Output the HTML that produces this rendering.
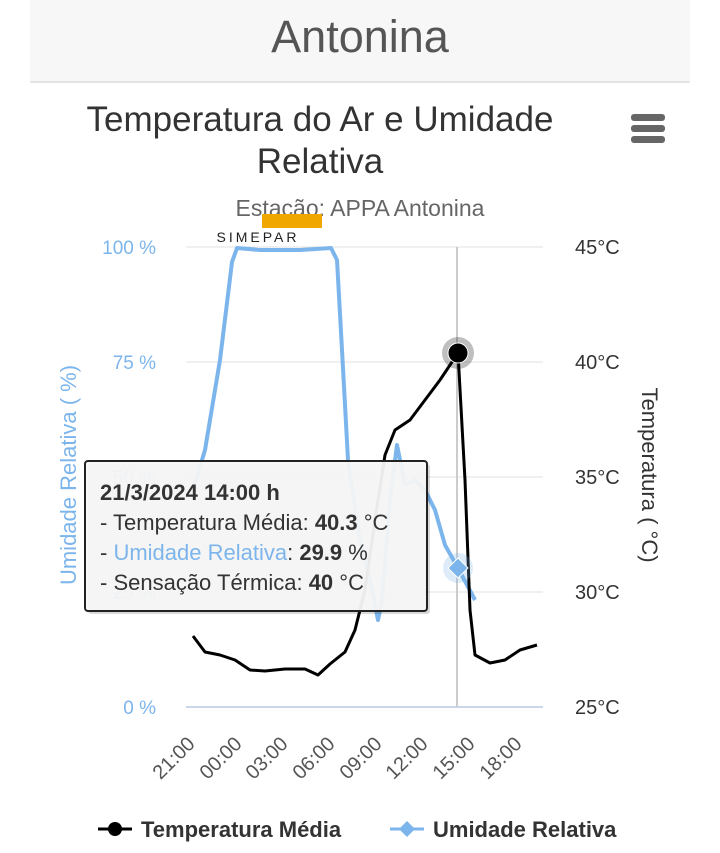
<!DOCTYPE html>
<html><head><meta charset="utf-8"><style>
body{margin:0;width:720px;height:848px;background:#fff;font-family:"Liberation Sans",sans-serif;overflow:hidden}
</style></head><body>
<svg width="720" height="848" xmlns="http://www.w3.org/2000/svg" font-family="Liberation Sans, sans-serif">
<rect x="30" y="0" width="660" height="82" fill="#f7f7f7"/>
<line x1="30" y1="82" x2="690" y2="82" stroke="#e4e4e4" stroke-width="2"/>
<text x="360" y="52" font-size="45" fill="#555" text-anchor="middle">Antonina</text>
<text x="320" y="131" font-size="35" fill="#333" text-anchor="middle">Temperatura do Ar e Umidade</text>
<text x="320" y="173" font-size="35" fill="#333" text-anchor="middle">Relativa</text>
<rect x="631" y="114" width="34" height="7" rx="3" fill="#666"/>
<rect x="631" y="125" width="34" height="7" rx="3" fill="#666"/>
<rect x="631" y="136" width="34" height="7" rx="3" fill="#666"/>
<text x="360" y="216" font-size="23" fill="#666" text-anchor="middle">Estação: APPA Antonina</text>
<rect x="262" y="214" width="60" height="14" fill="#f0a800"/>
<text x="258" y="242" font-size="14" fill="#222" text-anchor="middle" letter-spacing="3">SIMEPAR</text>
<g stroke="#e0e0e0" stroke-width="1">
<line x1="186" y1="247" x2="543" y2="247"/><line x1="186" y1="362" x2="543" y2="362"/>
<line x1="186" y1="477" x2="543" y2="477"/><line x1="186" y1="592" x2="543" y2="592"/>
</g>
<line x1="186" y1="707" x2="543" y2="707" stroke="#ccd6eb" stroke-width="2"/>
<line x1="457" y1="247" x2="457" y2="707" stroke="#ccc" stroke-width="2"/>
<g font-size="19" fill="#7cb5ec" text-anchor="end">
<text x="156" y="254">100 %</text><text x="156" y="369">75 %</text><text x="156" y="484">50 %</text><text x="156" y="599">25 %</text><text x="156" y="714">0 %</text></g>
<g font-size="20" fill="#333"><text x="575" y="254">45°C</text><text x="575" y="369">40°C</text><text x="575" y="484">35°C</text><text x="575" y="599">30°C</text><text x="575" y="714">25°C</text></g>
<text transform="translate(76,475) rotate(-90)" font-size="22" fill="#7cb5ec" text-anchor="middle">Umidade Relativa ( %)</text>
<text transform="translate(642,475) rotate(90)" font-size="22" fill="#333" text-anchor="middle">Temperatura ( °C)</text>
<g font-size="20" fill="#555" text-anchor="end">
<text transform="translate(196,745) rotate(-45)">21:00</text>
<text transform="translate(243,745) rotate(-45)">00:00</text>
<text transform="translate(289,745) rotate(-45)">03:00</text>
<text transform="translate(336,745) rotate(-45)">06:00</text>
<text transform="translate(383,745) rotate(-45)">09:00</text>
<text transform="translate(429,745) rotate(-45)">12:00</text>
<text transform="translate(476,745) rotate(-45)">15:00</text>
<text transform="translate(523,745) rotate(-45)">18:00</text>
</g>
<polyline fill="none" stroke="#7cb5ec" stroke-width="4" stroke-linejoin="round" points="193,490 205,450 220,360 232,262 237,248 260,250 300,250 331,248 337,260 342,350 348,460 360,540 370,580 378,620 382,600 390,500 397,445 405,485 415,480 425,490 435,510 445,545 458,568 475,600"/>
<polyline fill="none" stroke="#000" stroke-width="3" stroke-linejoin="round" points="193,636 205,652 220,655 235,660 250,670 265,671 285,669 305,669 318,675 330,664 345,652 355,630 365,590 375,520 385,455 395,430 410,420 425,400 440,380 458,353 465,480 470,610 475,655 490,663 505,660 520,650 537,645"/>
<circle cx="458" cy="353" r="16" fill="#000" opacity="0.25"/>
<circle cx="458" cy="353" r="10" fill="#000" stroke="#fff" stroke-width="1"/>
<circle cx="458" cy="568" r="15" fill="#7cb5ec" opacity="0.25"/>
<polygon points="458,558 468,568 458,578 448,568" fill="#7cb5ec" stroke="#fff" stroke-width="1"/>
<rect x="88" y="464" width="342" height="150" fill="#000" opacity="0.15" rx="3"/>
<rect x="85" y="461" width="342" height="150" fill="#f7f7f7" fill-opacity="0.95" stroke="#222" stroke-width="2" rx="3"/>
<g font-size="22" fill="#333">
<text x="100" y="500" font-weight="bold">21/3/2024 14:00 h</text>
<text x="100" y="530">- Temperatura Média: <tspan font-weight="bold">40.3</tspan> °C</text>
<text x="100" y="560">- <tspan fill="#7cb5ec">Umidade Relativa</tspan>: <tspan font-weight="bold">29.9</tspan> %</text>
<text x="100" y="590">- Sensação Térmica: <tspan font-weight="bold">40</tspan> °C</text>
</g>
<line x1="98" y1="829" x2="132" y2="829" stroke="#000" stroke-width="3"/>
<circle cx="115" cy="829" r="7" fill="#000"/>
<text x="141" y="837" font-size="22" font-weight="bold" fill="#333">Temperatura Média</text>
<line x1="390" y1="829" x2="424" y2="829" stroke="#7cb5ec" stroke-width="3"/>
<polygon points="407,821 415,829 407,837 399,829" fill="#7cb5ec"/>
<text x="433" y="837" font-size="22" font-weight="bold" fill="#333">Umidade Relativa</text>
</svg>
</body></html>
